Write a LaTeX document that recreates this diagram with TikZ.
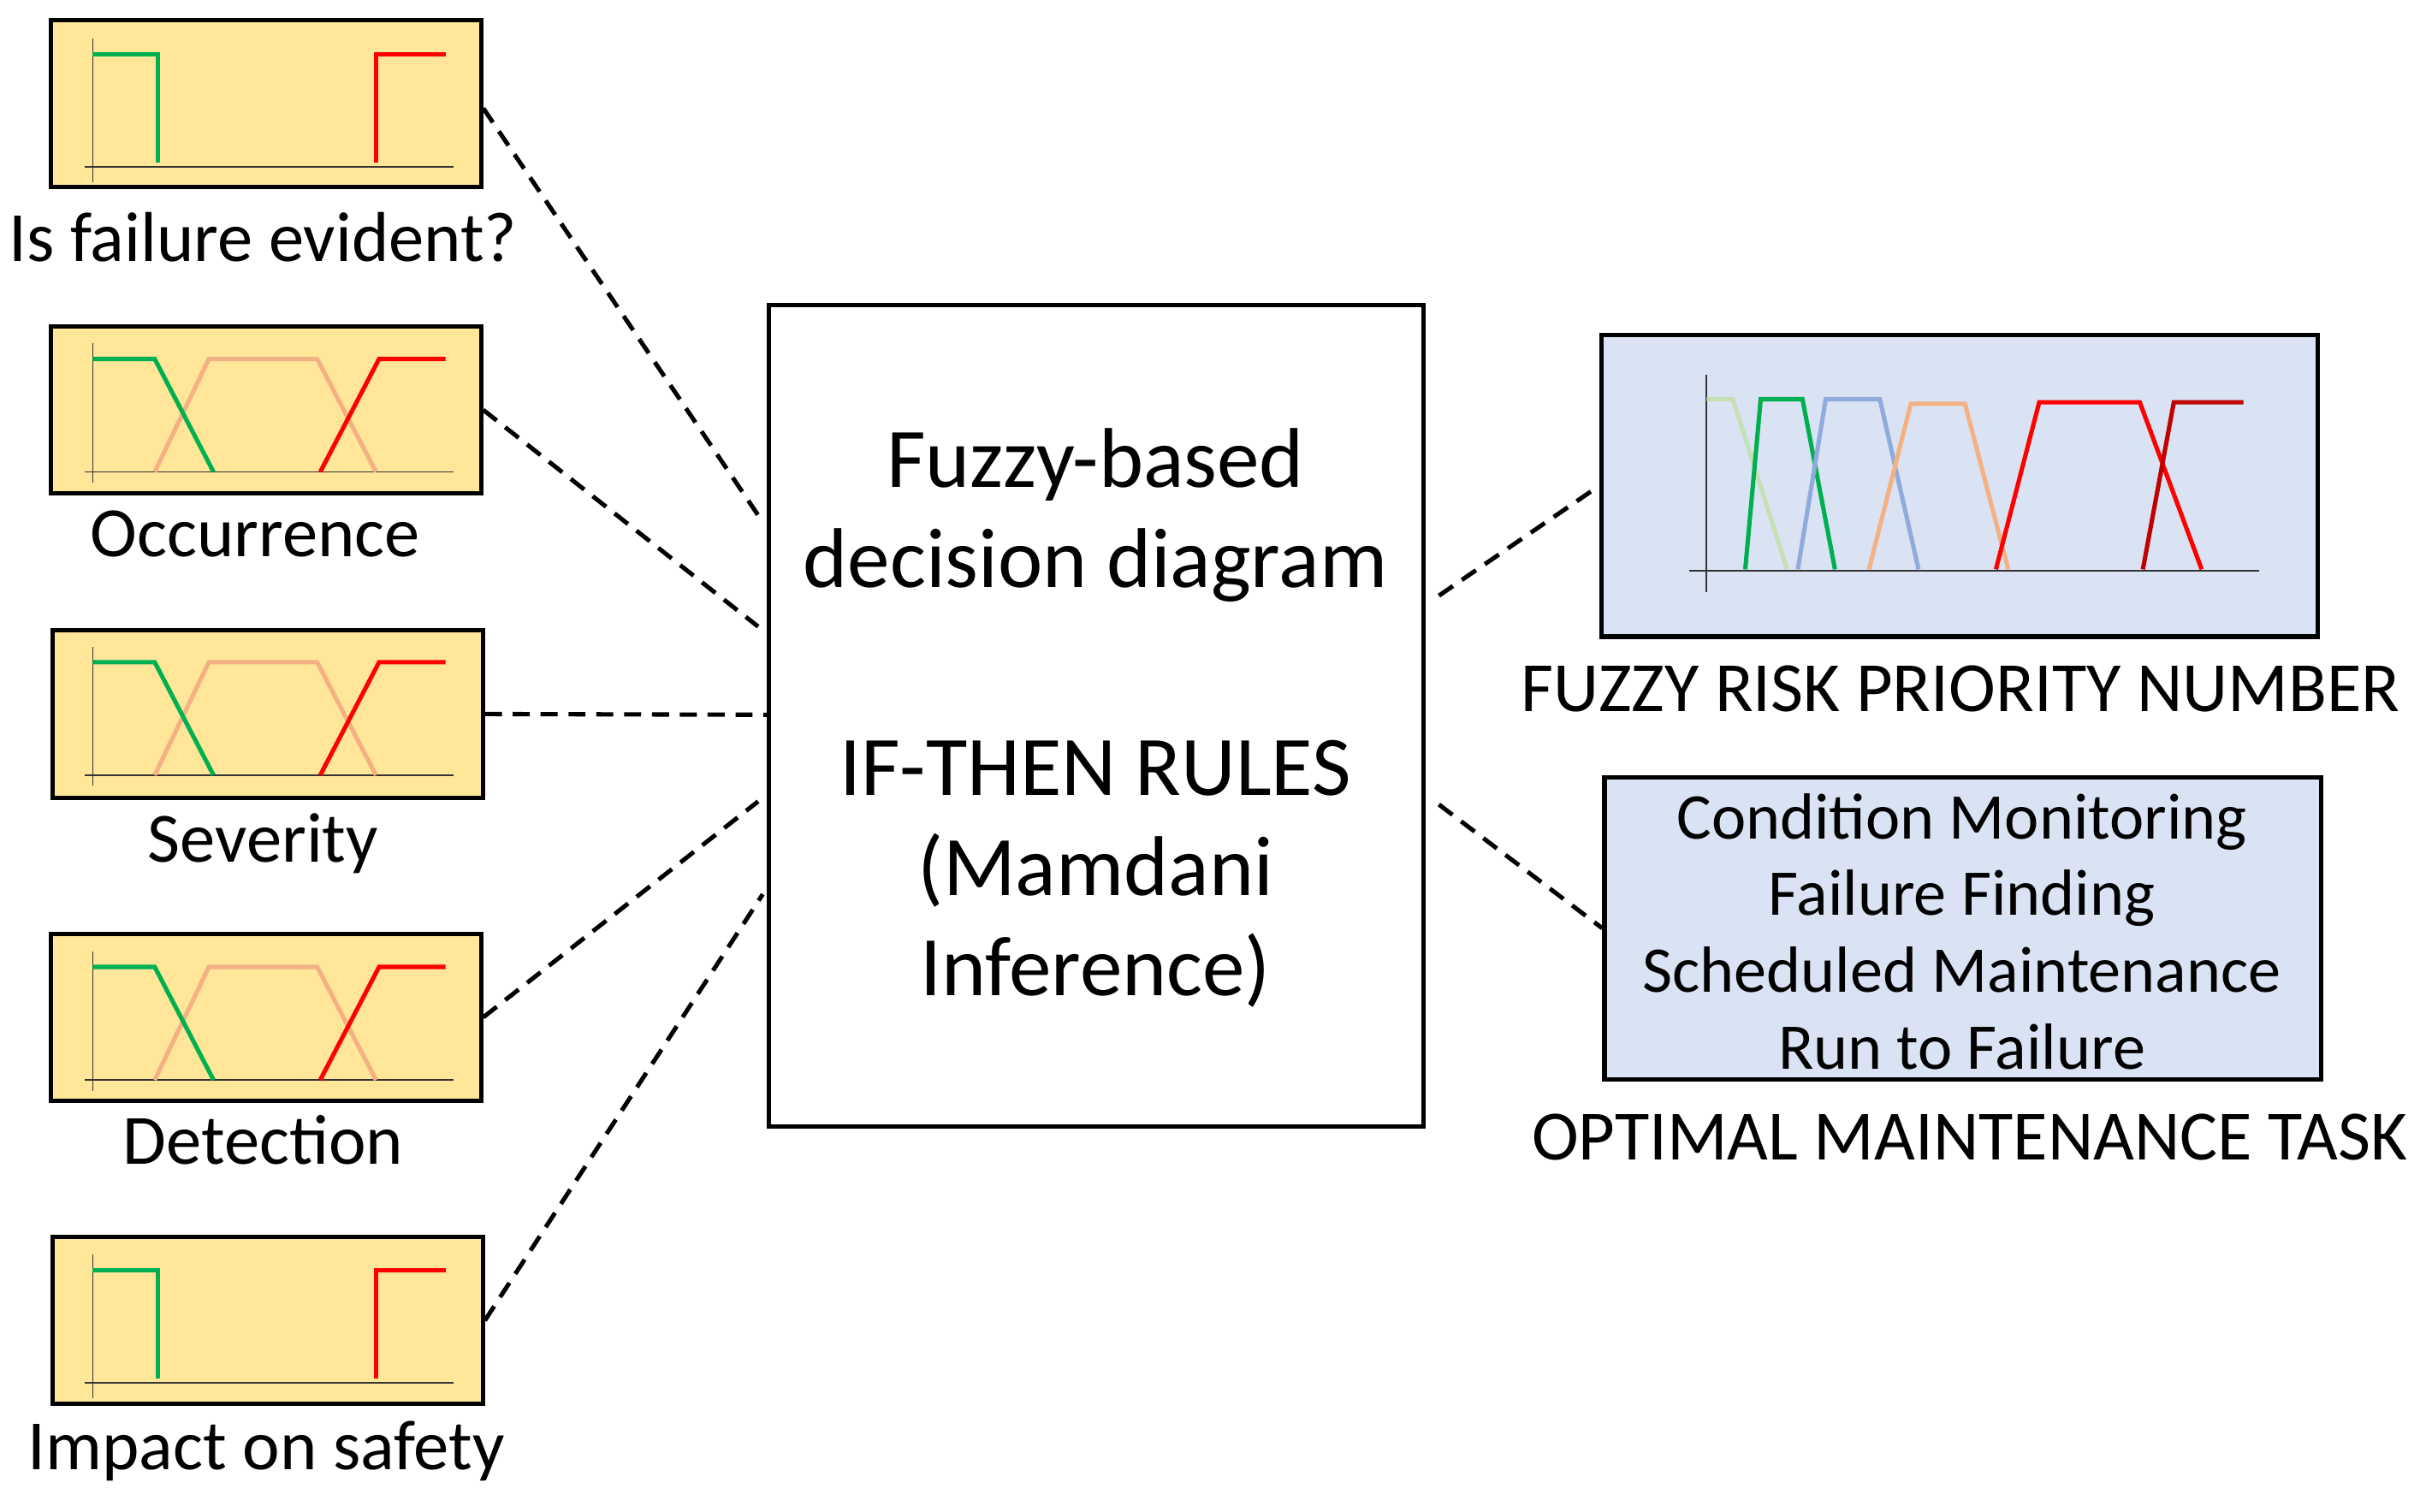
\documentclass[tikz,border=0pt]{standalone}
\usepackage{fontspec}
\setmainfont{Carlito}
\definecolor{boxy}{HTML}{FFE699}
\definecolor{boxb}{HTML}{DAE3F3}
\definecolor{gr}{HTML}{00B050}
\definecolor{pe}{HTML}{F4B183}
\definecolor{lg}{HTML}{C5E0B4}
\definecolor{bl}{HTML}{8FAADC}
\definecolor{dr}{HTML}{C00000}
\begin{document}
\begin{tikzpicture}[x=0.05cm,y=-0.05cm,
  ybox/.style={draw,line width=4pt,fill=boxy,minimum width=13.9cm,minimum height=5.4cm,inner sep=0},
  bbox/.style={draw,line width=4pt,fill=boxb,minimum width=23.15cm,minimum height=9.75cm,inner sep=0},
  lab/.style={font=\fontsize{65}{78}\selectfont,inner sep=0},
  dline/.style={line width=4pt,dash pattern=on 0.55cm off 0.35cm},
  crv/.style={line width=4pt},
  ax/.style={line width=1.5pt,black!80}]
\useasboundingbox (0,0) rectangle (1568,977);
% left boxes
\node[ybox] (b1) at (172,67) {};
\node[ybox] (b2) at (172,265) {};
\node[ybox] (b3) at (173,461.5) {};
\node[ybox] (b4) at (172,657.5) {};
\node[ybox] (b5) at (173,853.5) {};
\node[lab] (l1) at (170,153) {Is failure evident?};
\node[lab] (l2) at (165,345) {Occurrence};
\node[lab] (l3) at (170,545) {Severity};
\node[lab] (l4) at (170,737) {Detection};
\node[lab] (l5) at (172,938) {Impact on safety};
% step plots
\foreach \t in {13,799}{
  \begin{scope}[shift={(0,\t)}]
  \draw[ax] (60,12) -- (60,105); \draw[ax] (55,95) -- (293,95);
  \draw[crv,gr] (60,22) -- (102,22) -- (102,92);
  \draw[crv,red] (243,92) -- (243,22) -- (288,22);
  \end{scope}}
\foreach \t in {210,406,603}{
  \begin{scope}[shift={(0,\t)}]
  \draw[ax] (60,12) -- (60,102); \draw[ax] (55,95) -- (293,95);
  \draw[crv,pe] (100,95) -- (135,22) -- (205,22) -- (243,95);
  \draw[crv,gr] (60,22) -- (100,22) -- (138,95);
  \draw[crv,red] (207,95) -- (245,22) -- (288,22);
  \end{scope}}
% center
\node[draw,line width=4pt,minimum width=21.15cm,minimum height=26.55cm,inner sep=0] (c) at (708.5,462.5) {};
\node[font=\fontsize{78}{92}\selectfont,align=center,inner sep=0] (ct1) at (708,333) {Fuzzy-based\\decision diagram};
\node[font=\fontsize{78}{92}\selectfont,align=center,inner sep=0] (ct2) at (708,565) {IF-THEN RULES\\(Mamdani\\Inference)};
% right boxes
\node[bbox] (r1) at (1266.5,314) {};
\begin{scope}
\draw[ax] (1103,242) -- (1103,383); \draw[ax] (1092,369) -- (1460,369);
\draw[crv,lg] (1103,258) -- (1120,258) -- (1155,368);
\draw[crv,gr] (1128,368) -- (1138,258) -- (1165,258) -- (1186,368);
\draw[crv,bl] (1162,368) -- (1180,258) -- (1215,258) -- (1240,368);
\draw[crv,pe] (1208,368) -- (1235,261) -- (1270,261) -- (1298,368);
\draw[crv,red] (1290,368) -- (1318,260) -- (1383,260) -- (1423,368);
\draw[crv,dr] (1385,368) -- (1405,260) -- (1450,260);
\end{scope}
\node[lab] (rl1) at (1267,445) {FUZZY RISK PRIORITY NUMBER};
\node[bbox] (r2) at (1268.5,600) {};
\node[font=\fontsize{60}{70.5}\selectfont,align=center,inner sep=0] (rt) at (1268,602) {Condition Monitoring\\Failure Finding\\Scheduled Maintenance\\Run to Failure};
\node[lab] (rl2) at (1273,735) {OPTIMAL MAINTENANCE TASK};
% connectors
\coordinate (c1) at (490,333); \coordinate (c2) at (490,405); \coordinate (c3) at (497,462);
\coordinate (c4) at (490,518); \coordinate (c5) at (493,578);
\coordinate (co1) at (930,385); \coordinate (co2) at (930,520);
\draw[dline] (b1.east |- 0,70) -- (c1);
\draw[dline] (b2.east) -- (c2);
\draw[dline] (b3.east) -- (c3);
\draw[dline] (b4.east) -- (c4);
\draw[dline] (b5.east) -- (c5);
\draw[dline] (co1) -- (r1.west);
\draw[dline] (co2) -- (r2.west);
\end{tikzpicture}
\end{document}
